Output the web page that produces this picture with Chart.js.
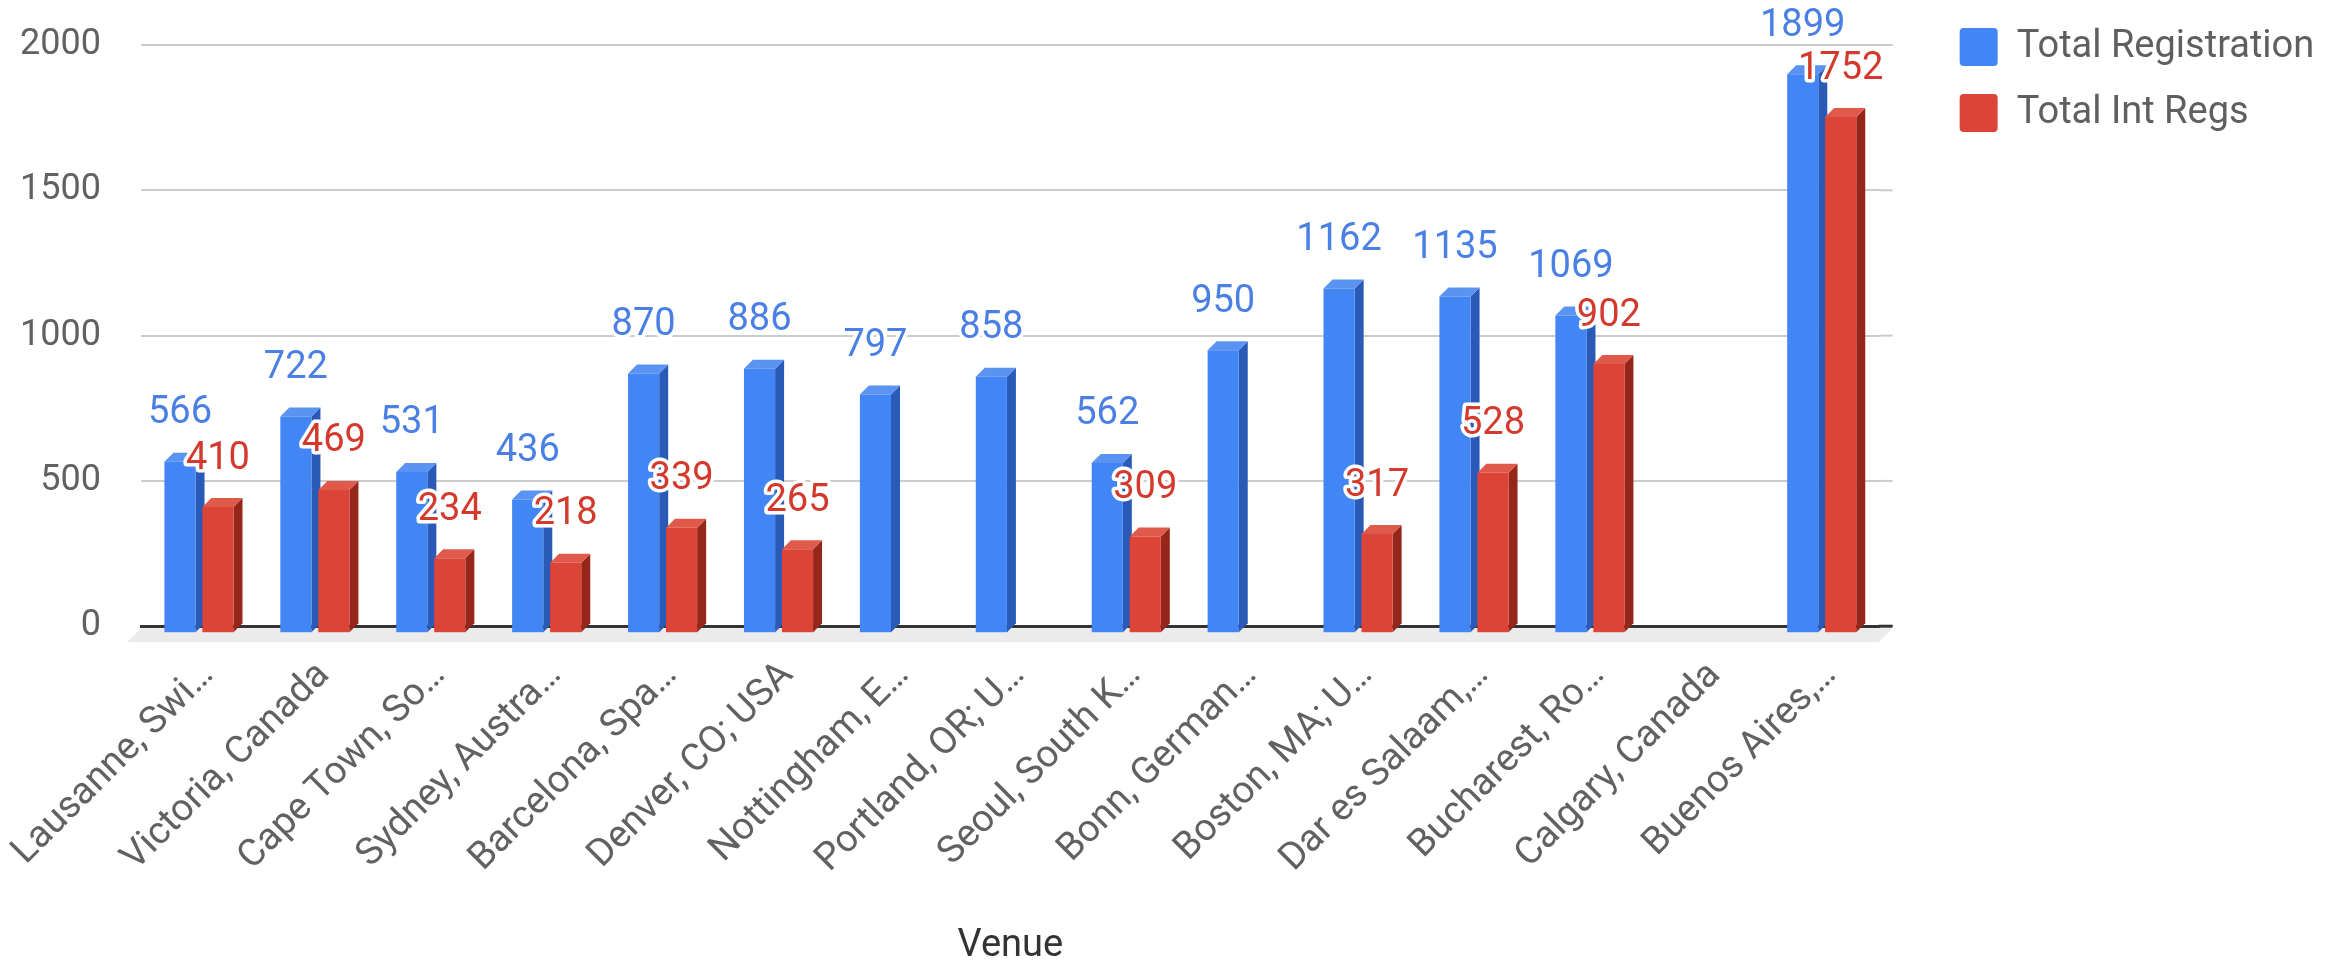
<!DOCTYPE html>
<html>
<head>
<meta charset="utf-8">
<script src="https://cdn.jsdelivr.net/npm/chart.js@4.4.1/dist/chart.umd.min.js"></script>
<style>
    html, body { margin: 0; padding: 0; background: #ffffff; }
    #chartWrap { width: 2344px; height: 965px; position: relative; }
</style>
</head>
<body>
<div id="chartWrap"><canvas id="mainGraph"></canvas></div>
<script>
const venues = [
    "Lausanne, Swi…", "Victoria, Canada", "Cape Town, So…", "Sydney, Austra…",
    "Barcelona, Spa…", "Denver, CO; USA", "Nottingham, E…", "Portland, OR; U…",
    "Seoul, South K…", "Bonn, German…", "Boston, MA; U…", "Dar es Salaam,…",
    "Bucharest, Ro…", "Calgary, Canada", "Buenos Aires,…"
]
const totalRegistration = [566, 722, 531, 436, 870, 886, 797, 858, 562, 950, 1162, 1135, 1069, null, 1899]
const totalIntRegs = [410, 469, 234, 218, 339, 265, null, null, 309, null, 317, 528, 902, null, 1752]
const yTicks = [0, 500, 1000, 1500, 2000]

const seriesNames = ["Total Registration", "Total Int Regs"]
const frontColors = ["#4285F4", "#DB4437"]
const sideColors = ["#2a5ab8", "#962619"]
const topColors = ["#5a93f2", "#e05a4c"]
const labelColors = ["#4a7fe3", "#d3392d"]

const lineCanvas = document.getElementById("mainGraph")
const depthX = 9
const depthY = 9
const frontDrop = 7
const backExtra = 13

// floor strip, back wall overhang and the side/top faces of every bar
const depthPlugin = {
    id: "depth3d",
    beforeDatasetsDraw(chart) {
        const {ctx, chartArea} = chart
        const yScale = chart.scales.y
        const base = yScale.getPixelForValue(0)
        ctx.save()

        // grid lines run a bit further on the back wall
        yTicks.forEach((v) => {
            const py = yScale.getPixelForValue(v)
            ctx.strokeStyle = v === 0 ? "#333333" : "#cccccc"
            ctx.lineWidth = v === 0 ? 3 : 2
            ctx.beginPath()
            ctx.moveTo(chartArea.right - 1, py)
            ctx.lineTo(chartArea.right + backExtra, py)
            ctx.stroke()
        })

        ctx.fillStyle = "#ebebeb"
        ctx.beginPath()
        ctx.moveTo(chartArea.left, base + 2)
        ctx.lineTo(chartArea.right + backExtra, base + 2)
        ctx.lineTo(chartArea.right + backExtra - 14, base + 16)
        ctx.lineTo(chartArea.left - 14, base + 16)
        ctx.closePath()
        ctx.fill()

        chart.data.datasets.forEach((dataset, di) => {
            const meta = chart.getDatasetMeta(di)
            meta.data.forEach((bar, i) => {
                if (dataset.data[i] === null) return
                const half = bar.width / 2
                const left = bar.x - half
                const right = bar.x + half
                const top = bar.y
                const bottom = bar.base + frontDrop

                ctx.fillStyle = frontColors[di]
                ctx.fillRect(left, bar.base - 1, bar.width, frontDrop + 1)

                ctx.fillStyle = sideColors[di]
                ctx.beginPath()
                ctx.moveTo(right, top)
                ctx.lineTo(right + depthX, top - depthY)
                ctx.lineTo(right + depthX, bottom - depthY)
                ctx.lineTo(right, bottom)
                ctx.closePath()
                ctx.fill()

                ctx.fillStyle = topColors[di]
                ctx.beginPath()
                ctx.moveTo(left, top)
                ctx.lineTo(left + depthX, top - depthY)
                ctx.lineTo(right + depthX, top - depthY)
                ctx.lineTo(right, top)
                ctx.closePath()
                ctx.fill()
            })
        })
        ctx.restore()
    }
}

// value labels with a white halo, drawn above the bars
const valueLabelPlugin = {
    id: "valueLabels",
    afterDatasetsDraw(chart) {
        const {ctx} = chart
        ctx.save()
        ctx.font = "38px Roboto"
        ctx.textAlign = "center"
        ctx.textBaseline = "middle"
        ctx.lineJoin = "round"
        chart.data.datasets.forEach((dataset, di) => {
            const meta = chart.getDatasetMeta(di)
            meta.data.forEach((bar, i) => {
                const value = dataset.data[i]
                if (value === null) return
                const tx = bar.x
                const ty = bar.y - 48
                ctx.lineWidth = 7
                ctx.strokeStyle = "#ffffff"
                ctx.strokeText(String(value), tx, ty)
                ctx.fillStyle = labelColors[di]
                ctx.fillText(String(value), tx, ty)
            })
        })
        ctx.restore()
    }
}

const noSidePadding = (scale) => {
    scale.paddingLeft = 0
    scale.paddingRight = 0
}

const chartData = {
    labels: venues,
    datasets: [
        {
            label: seriesNames[0],
            data: totalRegistration,
            backgroundColor: frontColors[0],
            borderWidth: 0,
            categoryPercentage: 0.655,
            barPercentage: 0.82
        },
        {
            label: seriesNames[1],
            data: totalIntRegs,
            backgroundColor: frontColors[1],
            borderWidth: 0,
            categoryPercentage: 0.655,
            barPercentage: 0.82
        }
    ]
}

const chartConfig = {
    type: "bar",
    data: chartData,
    options: {
        responsive: true,
        maintainAspectRatio: false,
        devicePixelRatio: 1,
        animation: false,
        layout: {
            padding: {left: 20, right: 30, top: 0, bottom: 0}
        },
        scales: {
            y: {
                min: yTicks[0],
                max: yTicks[yTicks.length - 1],
                afterBuildTicks: (scale) => {
                    scale.ticks = yTicks.map((v) => ({value: v}))
                },
                afterFit: (scale) => {
                    scale.width = 121
                    scale.paddingTop = 0
                    scale.paddingBottom = 0
                },
                grid: {
                    color: "#cccccc",
                    lineWidth: 2,
                    drawTicks: false
                },
                border: {display: false},
                ticks: {
                    color: "#616161",
                    padding: 40,
                    font: {family: "Roboto", size: 36},
                    callback: (value) => String(value)
                }
            },
            yRight: {
                position: "right",
                display: true,
                grid: {display: false},
                border: {display: false},
                ticks: {display: false},
                afterFit: (scale) => {
                    scale.width = 52
                }
            },
            x: {
                grid: {display: false, drawTicks: false},
                border: {
                    display: true,
                    color: "#333333",
                    width: 3
                },
                afterFit: noSidePadding,
                afterUpdate: noSidePadding,
                ticks: {
                    color: "#616161",
                    autoSkip: false,
                    maxRotation: 45,
                    minRotation: 45,
                    padding: 27,
                    labelOffset: 9,
                    font: {family: "Roboto", size: 38}
                },
                title: {
                    display: true,
                    text: "Venue",
                    color: "#333333",
                    padding: {top: 18, bottom: 0},
                    font: {family: "Roboto", size: 38, lineHeight: 1}
                }
            }
        },
        plugins: {
            title: {
                display: true,
                text: "",
                fullSize: false,
                padding: 0,
                font: {size: 45, lineHeight: 1}
            },
            legend: {
                position: "right",
                align: "start",
                labels: {
                    boxWidth: 38,
                    boxHeight: 38,
                    padding: 28,
                    useBorderRadius: true,
                    borderRadius: 4,
                    color: "#5f5f5f",
                    font: {family: "Roboto", size: 38}
                }
            },
            tooltip: {enabled: false}
        }
    },
    plugins: [depthPlugin, valueLabelPlugin]
}

const renderChart = (config) => new Chart(lineCanvas, config)

renderChart(chartConfig)
</script>
</body>
</html>
